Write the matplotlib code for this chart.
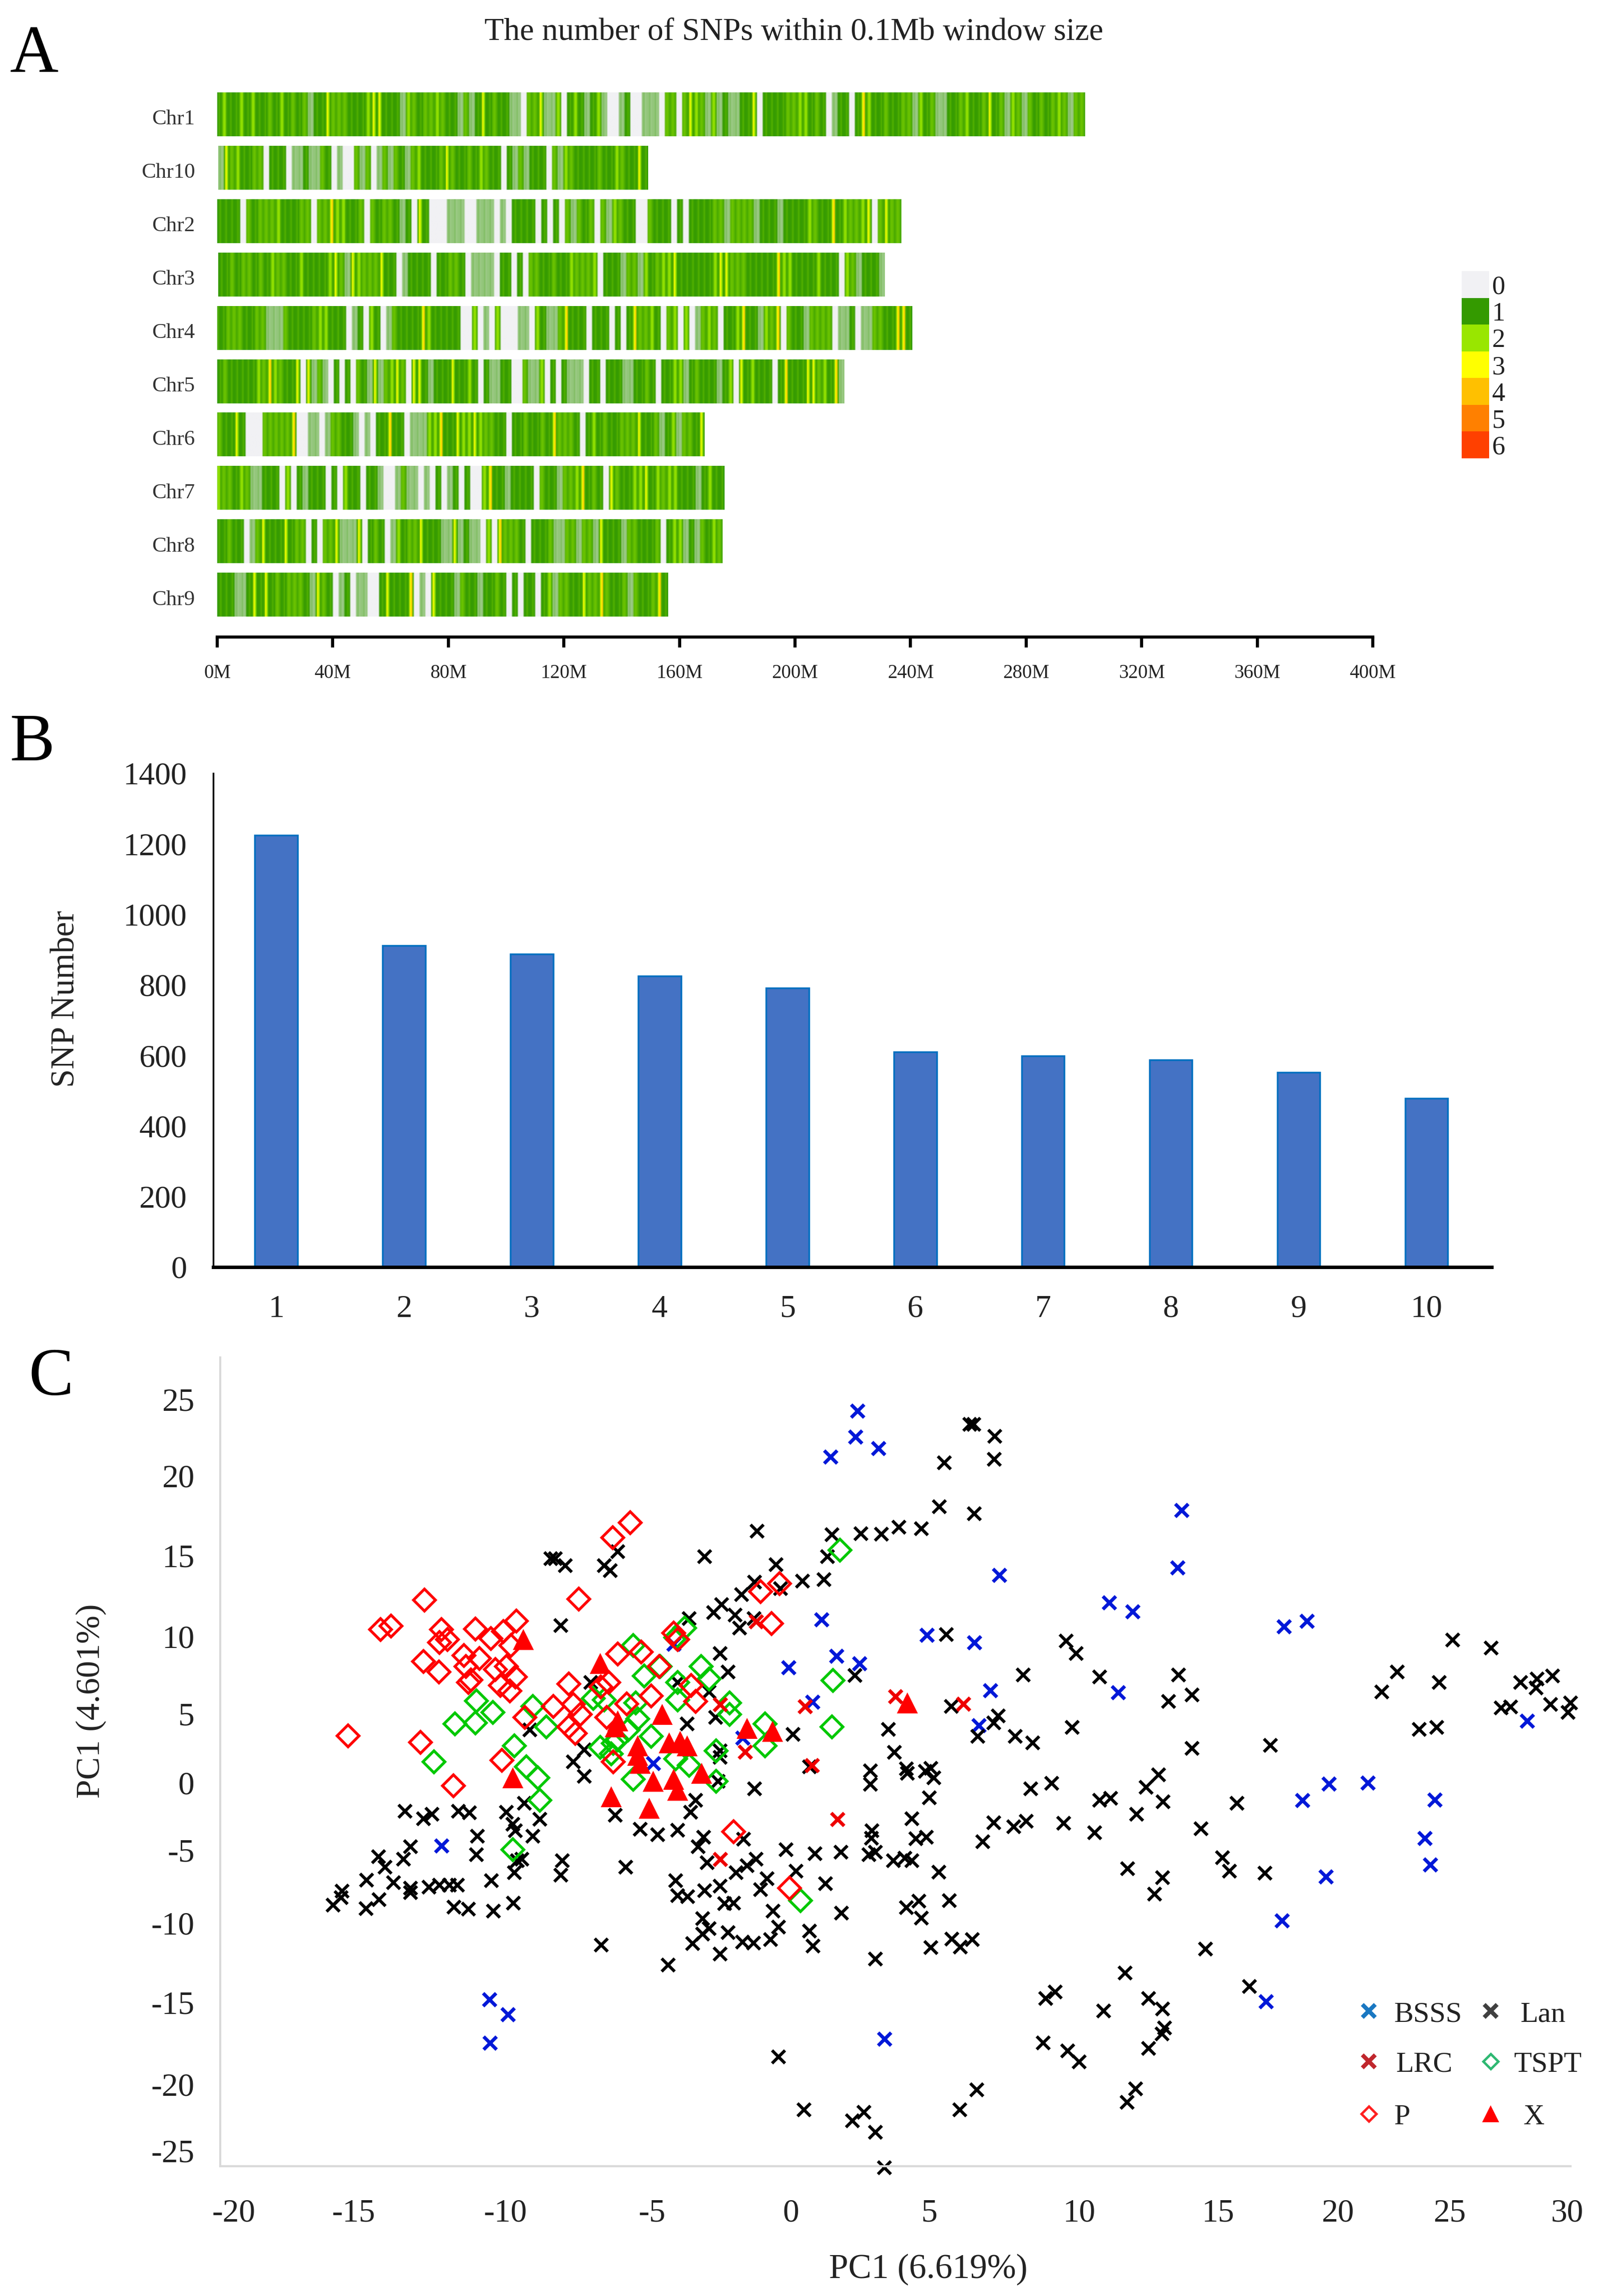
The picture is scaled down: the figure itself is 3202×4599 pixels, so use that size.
import numpy as np
import matplotlib
matplotlib.use("Agg")
import matplotlib.pyplot as plt
from matplotlib.colors import LinearSegmentedColormap, ListedColormap

plt.rcParams["font.family"] = ["Liberation Serif", "DejaVu Serif"]

W, H = 3202, 4599
DPI = 100

# Panel A: one character per 2 Mb, read by eye off the strips
# 0 = none, p = pale (0/1 mix), 1 = dark green, m = 1/2 mix, 2 = lime, 3 = yellow, 4 = orange
chr_names = ["Chr1", "Chr10", "Chr2", "Chr3", "Chr4", "Chr5", "Chr6", "Chr7", "Chr8", "Chr9"]
chr_start = [-0.5, 0.3, -0.2, 0.3, -0.9, 0.0, 0.0, -0.5, -0.5, 0.0]
chr_end = [300.4, 149.0, 236.7, 231.0, 240.5, 217.0, 168.7, 175.6, 174.8, 156.0]
chr1_bins = ("1211212 11m121m1mp113mmm111233111p2m1mm2m11pmp131m11pp0mm3pp20121p12p00p100ppp"
             "0mm0m32mp2p1pp11301111mm221m10p11014211m11mmp21mpp11m211m31mp2mpm1m1m2mpmm").replace(" ", "")
chr10_bins = "p3m211mm0111 0pp1pp m10p00mp m0pmpm1pm2111m3m11m12m110" .replace(" ", "") + "1pmp1110mp2m1111m112m113" + "1"
chr2_bins = ("1111 0m1mmm2111mm0mm422" "11m0m1mm1p1031000ppp00ppp0p01111010 1" "0mp m1m0mp2m110" "0m11" "1010 1111mmp mmmmp111p11112m114" "12mm2 30m3mm").replace(" ", "")
chr3_bins = ("11m1mm1m12mm11211112 3mp32mmm3110p1111 011mm10pppp0110 10 mm11m112mmm20111pmmp21"
             "m22311111123 3mmm11111 42211112111 02mp111p").replace(" ", "")
chr4_bins = ("11mmm11mmppp m1111m2 2111 0p102 1 0p m1111 42 1111100 20p02000pp021ppm411 10111 0101 4mm2"
             "10m202 0pm2m0112 4 11p2m4 0m11pmmmm0pp10pp mm114 41").replace(" ", "")
chr5_bins = ("1m11111 2m42m1130 3pmp0101 0m1p3pm23m0 331p111 3112 10 1pp110 0mpp20101ppp0 1 1011 1pp11m1"
             "01 122p1m111p120 31 2 111 01 4111 33m214p").replace(" ", "")
chr6_bins = ("m113100 0 mmmmm400pp0pmm11p0p0114 1 1 0ppp2241 13223 2mm110 11m11m1 4mmm10 121m11mmm3 1"
             "1mp12pmm13").replace(" ", "")
chr7_bins = ("2mm12mpp1110 2 0 1p111 01 0 2110 11p00pmpp0p01 0p1 0 1002 4 11 p1111 0m11pmm2 41m103m1122 31"
             "2m221 11p1 211").replace(" ", "")
chr8_bins = ("11m110pm3111 31mm010mm3ppp30 1m10p21mm3111pp3p1pp0 2 04mmm10111mppmmpmmp3111 pmm111"
             "m0122p1pm12m").replace(" ", "")
chr9_bins = ("111pp131 31m1mmm1p3m1 0p10pp 00131114 0p03111pm11p11m10 1 011 012pmm113mm4m11mpm11"
             "m41").replace(" ", "")
chr_bins = [chr1_bins, chr10_bins, chr2_bins, chr3_bins, chr4_bins,
            chr5_bins, chr6_bins, chr7_bins, chr8_bins, chr9_bins]
# a bright stripe is much thinner than 2 Mb, so each character is spread over four samples
bin_samples = {"0": (0, 0, 0, 0), "p": (0.5, 0.6, 0.45, 0.5), "1": (1, 1.1, 1.3, 1.05), "m": (1.4, 1.55, 1.45, 1.2),
               "2": (1.3, 1.9, 1.9, 1.2), "3": (1.2, 2.9, 2.1, 1.1), "4": (1.3, 2.8, 3.7, 1.2)}
density_levels = [0, 1, 2, 3, 4, 5, 6]
density_colors = ["#f1f1f4", "#349a00", "#99e600", "#ffff00", "#ffc000", "#ff8000", "#ff4000"]
mb_ticks = list(range(0, 401, 40))

# Panel B
chromosomes = [1, 2, 3, 4, 5, 6, 7, 8, 9, 10]
snp_number = [1224, 911, 887, 825, 792, 610, 599, 588, 552, 479]

# Panel C
bsss_x = [2.38, 2.05, 2.6, 0.81, 1.71, -0.91, -3.5, -4.26, 3.39, 3.32, 4.18, 15.54, 15.4, 8.71, 12.82, 13.71, 19.38,
          20.24, 5.99, 7.78, 3.46, 8.37, 13.16, 7.94, 28.5, 21.06, 22.53, 20.08, 25.04, 24.66, 24.86, 20.95, 19.31,
          18.71, 4.41, -12.2, -10.41, -9.72, -10.39]
bsss_y = [21.15, 10.32, 7.89, 7.15, 4.84, 2.44, 8.7, 0.75, 24.2, 22.5, 21.73, 17.59, 13.78, 13.29, 11.45, 10.85, 9.86,
          10.22, 9.29, 8.8, 7.42, 5.62, 5.47, 3.29, 3.6, -0.59, -0.52, -1.69, -1.65, -4.21, -5.99, -6.79, -9.71,
          -15.08, -17.58, -4.72, -14.94, -15.95, -17.84]
lan_x = [-5.6, -8.1, -7.93, -7.57, -6.1, -5.88, -2.33, -0.38, 0.34, -0.46, 0.51, 1.34, 2.13, 2.43, 2.26, -0.96, -1.7,
         -2.0, -1.2, -1.03, -0.49, -2.92, -7.73, -1.75, -1.45, -3.34, -6.6, -2.17, -1.92, -3.0, 0.98, -8.89, -6.85,
         -7.27, -6.85, -1.75, -1.75, -1.83, -0.46, 1.6, -2.67, -2.87, -5.68, -13.57, -12.87, -12.57, -11.56, -11.15,
         -9.77, -9.1, -8.52, -9.52,
         -9.44, -10.86, -8.77, -13.37, -10.89, -9.19, -9.36, -7.68, -13.62, -14.57, -14.32, -5.29, -7.73, -9.47,
         -10.33, -15.01, -14.0, -13.37, -13.37, -12.67, -12.28, -11.91, -11.61, -15.93, -15.96, -16.26, -15.04,
         -14.54, -11.73, -11.2, -10.26, -9.51, -6.21, -4.76, -4.09, -3.34, -2.37, -2.58, -0.88, -2.25, -0.41, -0.75,
         -1.16, 0.71, 1.8, 2.77, 1.09, 0.0, 2.2, -3.42, -1.75, -2.33, -3.34, -2.97, -0.24, -1.58, -1.25, 0.22, 2.8,
         -2.42, 0.43, -2.17, -2.42, -1.46, 1.6, -2.79, -0.91, -0.5, 0.14, 1.73, -1.75, -3.7, 0.43, 1.38,
         7.6, 7.75, 8.54, 8.52, 6.65, 6.47, 7.78, 3.52, 4.29, 4.95, 5.79, 6.73, 11.22, 11.6, 9.61, 12.48, 15.43, 3.29,
         15.94, 15.06, 6.92, 8.68, 8.5, 7.91, 4.56, 4.77, 3.88, 3.88, 5.22, 5.27, 5.94, 6.15, 6.26, 6.08, 9.31, 9.97,
         11.44, 15.94, 18.87, 9.88, 10.67, 12.48, 12.89, 14.22, 14.68, 14.86, 13.86, 17.62, 16.28, 25.72, 27.15,
         23.64, 23.05, 25.2, 28.25, 28.87, 29.45, 28.84, 27.53, 27.89, 29.38, 30.13, 30.04, 24.45, 25.11,
         5.44, 8.5, 9.25, 9.72, 11.13, 12.28, 3.93, 3.91, 5.58, 5.97, 8.09, 3.82, 4.06, 4.74, 5.18, 5.44, 6.44, 13.52,
         14.84, 14.54, 17.08, 17.35, 18.68, 5.22, 5.69, 5.78, 6.83, 6.15, 6.94, 7.25, 7.69, 4.07, 16.44, 13.43, 18.09,
         10.81, 10.45, 12.62, 14.31, 14.84, 14.9, 14.81, 14.31, 10.36, 11.28, 11.71, 13.82, 13.5, 7.87, 7.23, 3.64,
         3.21, 4.06, 4.41]
lan_y = [14.84, 14.37, 14.37, 13.93, 13.93, 13.57, 14.52, 16.22, 13.99, 12.83, 12.4, 12.87, 13.0, 15.96, 14.52, 11.98,
         11.34, 10.81, 10.64, 9.75, 10.39, 10.39, 9.92, 8.06, 6.85, 6.15, 6.15, 5.51, 3.82, 3.4, 2.7, 2.97, 1.66, 0.85,
         -0.1, 1.6, 1.17, -0.42, -0.95, 0.54, -1.69, -2.5, -2.71, -2.43, -2.92, -2.64, -2.43, -2.54, -2.5, -1.9, -2.96,
         -3.28,
         -3.72, -4.08, -4.08, -4.78, -5.31, -5.63, -5.73, -5.73, -5.63, -5.46, -6.16, -6.16, -6.68, -6.51, -7.04, -7.0,
         -7.17, -7.53, -7.85, -7.49, -7.36, -7.36, -7.36, -7.74, -8.17, -8.69, -8.91, -8.31, -8.8, -8.95, -9.08, -8.55,
         -11.34, -3.62, -3.98, -3.68, -4.15, -4.78, -4.29, -5.84, -5.63, -6.05, -6.51, -4.99, -5.25, -5.14, -6.43, -6.9,
         -7.26, -7.04, -7.42, -7.7, -8.06, -8.1, -7.64, -8.59, -8.55, -9.08, -9.22, -9.58, -10.13, -10.22, -10.6, -10.49,
         -10.39, -11.23, -11.13, -11.19, -10.98, -11.4, -11.93, -12.65, -18.79, -22.28,
         23.31, 23.31, 22.53, 20.98, 20.77, 17.85, 17.38, 16.05, 16.0, 16.47, 16.36, 9.33, 8.91, 8.06, 6.64, 6.51, 6.64,
         6.62, 5.3, 4.88, 4.56, 3.93, 3.44, 2.55, 3.01, 1.49, 0.26, -0.63, 0.39, 0.11, 0.22, 0.43, -0.21, -1.52, 2.55,
         2.12, 3.14, 1.76, 1.95, -0.95, -0.57, -1.69, -1.58, -0.84, 0.0, -1.8, -2.64, -1.9, -3.6, 8.95, 8.44, 6.83, 5.51,
         6.15, 6.15, 6.36, 6.57, 5.77, 4.45, 4.52, 4.67, 4.77, 4.14, 3.01, 3.14,
         -2.94, -3.19, -3.45, -3.09, -3.24, -3.87, -3.72, -4.21, -4.25, -4.15, -4.46, -5.31, -5.14, -5.73, -5.56, -5.73,
         -6.47, -6.26, -6.85, -7.95, -5.52, -6.41, -6.54, -8.84, -8.42, -9.54, -8.38, -11.49, -10.92, -11.45, -10.96,
         -12.25, -11.59, -13.2, -14.09, -14.45, -14.89, -15.72, -14.89, -15.57, -16.84, -17.26, -18.2, -17.86, -18.36,
         -19.1, -20.9, -21.81, -20.97, -22.28, -22.45, -23.04, -23.78, -26.15]
lrc_x = [1.43, -0.83, 1.68, 2.65, -0.41, -1.75, -1.75, 4.81, 7.37]
lrc_y = [4.56, 1.53, 0.64, -2.96, 10.18, 4.67, -5.63, 5.2, 4.71]
p_x = [-15.71, -13.0, -12.85, -14.49, -14.1, -12.2, -12.28, -11.98, -12.87, -12.3, -10.94, -10.36, -9.89, -9.39, -9.6,
       -11.36, -10.78, -11.28, -11.2, -11.1, -10.19, -9.77, -9.44, -10.0, -9.64, -7.06, -5.79, -5.13, -9.94, -11.75,
       -9.07, -8.02, -7.43, -7.27, -7.43, -7.18, -7.0, -6.23, -5.93, -5.59, -4.71, -4.04, -4.34, -5.26, -6.0, -5.76,
       -3.5, -3.34, -2.67, -2.84, -0.24, 0.48, 0.17, -1.25, 0.84]
p_y = [2.59, 2.17, 11.62, 9.65, 9.9, 9.65, 8.8, 9.0, 7.53, 6.85, 9.71, 9.07, 9.54, 10.22, 8.59, 7.95, 7.74, 7.21, 6.15,
       6.3, 7.0, 7.2, 6.51, 5.94, 5.58, 11.7, 15.79, 16.79, 0.96, -0.74, 3.82, 4.56, 6.04, 4.67, 3.18, 2.76, 4.03, 5.83,
       6.15, 8.02, 8.16, 7.21, 5.26, 4.71, 3.82, 0.85, 9.43, 9.0, 4.88, 5.94, 12.19, 12.72, 10.07, -3.79, -7.53]
tspt_x = [-10.89, -10.27, -11.7, -10.94, -12.48, -8.77, -8.27, -9.47, -9.02, -8.6, -8.52, -5.01, -4.0, -4.6, -2.47,
          -2.17, -3.34, -3.34, -4.92, -4.84, -1.41, -1.41, -0.08, -0.08, 2.48, 2.43, -1.9, -1.9, -6.26, -5.84, -5.6,
          -4.34, -5.01, -3.42, -2.92, -6.51, -6.1, -3.09, -3.42, 2.73, -9.52, 1.26, -5.2, -5.76]
tspt_y = [4.92, 4.14, 3.4, 3.44, 0.85, 4.56, 3.18, 1.91, 0.53, -0.2, -1.69, 8.59, 7.2, 6.57, 7.2, 6.36, 6.15, 4.98, 4.77,
          3.71, 4.77, 4.03, 3.4, 1.91, 6.26, 3.18, 1.6, -0.42, 1.81, 1.38, 2.33, 2.55, -0.31, 1.07, 0.64, 5.09, 4.98, 9.75,
          9.12, 14.94, -4.99, -8.38, 3.0, 2.1]
x_x = [-9.14, -9.52, -6.26, -5.84, -4.42, -5.68, -3.92, -4.84, -4.76, -4.26, -3.67, -3.25, -3.0, -3.5, -3.34, -2.45,
       -0.75, 0.2, 5.26, -5.6, -4.84]
x_y = [9.0, -0.2, 7.42, -1.48, -2.22, 3.18, 4.03, 1.91, 0.75, -0.42, 2.12, 2.23, 1.91, -0.31, -1.05, 0.11, 3.08, 2.87,
       4.77, 3.6, 1.28]
pc_xticks = [-20, -15, -10, -5, 0, 5, 10, 15, 20, 25, 30]
pc_yticks = [25, 20, 15, 10, 5, 0, -5, -10, -15, -20, -25]
# the labels in the source sit unevenly along the axes
pc_xtick_pos = [-20.0, -15.5, -9.8, -4.3, 0.9, 6.1, 11.7, 16.9, 21.4, 25.6, 30.0]
pc_ytick_pos = [25.0, 19.9, 14.6, 9.2, 4.05, -0.53, -5.0, -9.87, -15.15, -20.6, -25.0]


def px_axes(left, top, right, bottom):
    return fig.add_axes([left / W, 1 - bottom / H, (right - left) / W, (bottom - top) / H])


def fig_text(x, y, s, **kw):
    kw.setdefault("ha", "center")
    kw.setdefault("va", "center")
    fig.text(x / W, 1 - y / H, s, **kw)


fig = plt.figure(figsize=(W / DPI, H / DPI), dpi=DPI, facecolor="white")

# Panel A
cmap = LinearSegmentedColormap.from_list(
    "snp", [(lv / 6, c) for lv, c in zip(density_levels, density_colors)]
)
ax_a = px_axes(435, 170, 2749, 1276)
for i, bins in enumerate(chr_bins):
    vals = np.array([[v for c in bins for v in bin_samples[c]]], dtype=float)
    ax_a.imshow(vals, cmap=cmap, vmin=0, vmax=6, aspect="auto", interpolation="bilinear",
                extent=[chr_start[i], chr_end[i], i + 0.41, i - 0.41])
ax_a.set_xlim(0, 400)
ax_a.set_ylim(9.79, -0.55)
ax_a.set_yticks(np.arange(len(chr_names)) + 0.05)
ax_a.set_yticklabels(chr_names, fontsize=31, color="#333333")
ax_a.tick_params(axis="y", length=0, pad=32)
ax_a.set_xticks(mb_ticks)
ax_a.set_xticklabels([f"{m}M" for m in mb_ticks], fontsize=28, color="#222222")
ax_a.tick_params(axis="x", length=15, width=4.5, pad=24)
for s in ["top", "left", "right"]:
    ax_a.spines[s].set_visible(False)
ax_a.spines["bottom"].set_linewidth(4.5)

ax_key = px_axes(2927, 543, 2982, 918)
ax_key.pcolormesh(np.array(density_levels)[::-1].reshape(-1, 1), cmap=ListedColormap(density_colors),
                  vmin=-0.5, vmax=6.5)
ax_key.set_xticks([])
ax_key.yaxis.tick_right()
ax_key.set_yticks(np.arange(len(density_levels)) + 0.5)
ax_key.set_yticklabels(density_levels[::-1], fontsize=38, color="#222222")
ax_key.tick_params(axis="y", length=0, pad=4)
for s in ax_key.spines.values():
    s.set_visible(False)

fig_text(1590, 65, "The number of SNPs within 0.1Mb window size", fontsize=46, color="#222222")
fig_text(68, 111, "A", fontsize=97)
fig_text(64, 1490, "B", fontsize=97)
fig_text(102, 2761, "C", fontsize=97)

# Panel B
ax_b = px_axes(427, 1549, 2987, 2538)
ax_b.bar(chromosomes, snp_number, width=0.335, color="#4472c4", edgecolor="#0070c0", linewidth=2.5)
ax_b.set_xlim(0.508, 10.51)
ax_b.set_ylim(0, 1400)
ax_b.set_xticks(chromosomes)
ax_b.set_yticks(range(0, 1401, 200))
ax_b.tick_params(axis="both", length=0, labelsize=46, colors="#222222")
ax_b.tick_params(axis="x", pad=40)
ax_b.tick_params(axis="y", pad=38)
for s in ["top", "right"]:
    ax_b.spines[s].set_visible(False)
ax_b.spines["left"].set_linewidth(2.5)
ax_b.spines["bottom"].set_linewidth(5)
fig_text(132, 2001, "SNP Number", rotation=90, fontsize=48, color="#222222")

# Panel C
ax_c = px_axes(441, 2719, 3145, 4339)
x_kw = dict(linestyle="none", marker="x", markersize=19, clip_on=False)
d_kw = dict(linestyle="none", marker="D", markersize=22, markerfacecolor="none", markeredgewidth=4, clip_on=False)
ax_c.plot(bsss_x, bsss_y, color="#0018d8", markeredgewidth=5, **x_kw)
ax_c.plot(lan_x, lan_y, color="black", markeredgewidth=4.4, **x_kw)
ax_c.plot(tspt_x, tspt_y, color="#00c800", **d_kw)
ax_c.plot(lrc_x, lrc_y, color="#ee0000", markeredgewidth=5, **x_kw)
ax_c.plot(p_x, p_y, color="#ff0000", **d_kw)
ax_c.plot(x_x, x_y, color="#ff0000", linestyle="none", marker="^", markersize=30, markeredgewidth=0, clip_on=False)
ax_c.set_xlim(-20.5, 30.13)
ax_c.set_ylim(-26.05, 27.77)
ax_c.set_xticks(pc_xtick_pos)
ax_c.set_xticklabels(pc_xticks)
ax_c.set_yticks(pc_ytick_pos)
ax_c.set_yticklabels(pc_yticks)
ax_c.tick_params(axis="both", length=0, labelsize=47, colors="#222222")
ax_c.tick_params(axis="x", pad=47)
ax_c.tick_params(axis="y", pad=37)
for s in ["top", "right"]:
    ax_c.spines[s].set_visible(False)
for s in ["left", "bottom"]:
    ax_c.spines[s].set_color("#d9d9d9")
    ax_c.spines[s].set_linewidth(3)
fig_text(182, 3407, "PC1 (4.601%)", rotation=90, fontsize=49, color="#222222")
fig_text(1859, 4546, "PC1 (6.619%)", fontsize=50, color="#222222")

# legend drawn by hand: two columns, three rows like the source
legend_marks = [("x", "#1a78c2", "BSSS", 2741, 4028, 2791), ("x", "#404040", "Lan", 2985, 4028, 3044),
                ("x", "#c0272d", "LRC", 2741, 4129, 2795), ("D", "#2eb872", "TSPT", 2985, 4129, 3032),
                ("D", "#ff2020", "P", 2741, 4234, 2791), ("^", "#ff0000", "X", 2985, 4234, 3051)]
ax_leg = fig.add_axes([0, 0, 1, 1], facecolor="none")
ax_leg.set_xlim(0, W)
ax_leg.set_ylim(H, 0)
ax_leg.axis("off")
for mark, col, name, mx, my, tx in legend_marks:
    if mark == "x":
        ax_leg.plot([mx], [my], marker="x", color=col, markersize=19, markeredgewidth=6)
    elif mark == "D":
        ax_leg.plot([mx], [my], marker="D", color=col, markersize=15, markerfacecolor="none", markeredgewidth=3.5)
    else:
        ax_leg.plot([mx], [my], marker="^", color=col, markersize=25, markeredgewidth=0)
    ax_leg.text(tx, my + 7, name, fontsize=42, color="#222222", ha="left", va="center")

fig.savefig("out.png", dpi=DPI, facecolor="white")
